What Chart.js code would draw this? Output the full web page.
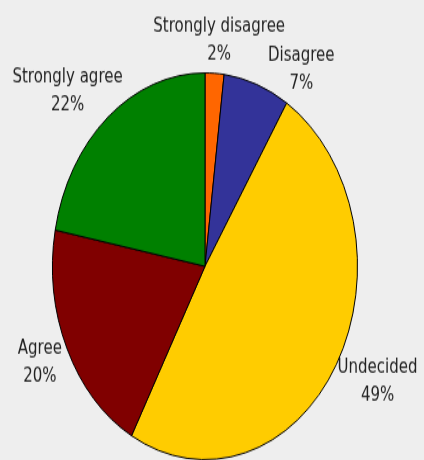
<!DOCTYPE html>
<html>
<head>
<meta charset="utf-8">
<script src="https://cdn.jsdelivr.net/npm/chart.js@4/dist/chart.umd.min.js"></script>
<style>
  html { overflow: hidden; }
  html, body { margin: 0; padding: 0; background: #eeeeee; }
  body { width: 424px; height: 460px; }
  #wrap { width: 424px; height: 363px; transform-origin: 0 0; transform: scaleY(1.268); }
</style>
</head>
<body>
<div id="wrap"><canvas id="chart" width="424" height="363"></canvas></div>
<script>
// answers, clockwise from the top
var labels = ['Strongly disagree', 'Disagree', 'Undecided', 'Agree', 'Strongly agree'];
var values = [2, 7, 49, 20, 22];
var colors = ['#ff6600', '#333399', '#ffcc00', '#800000', '#008000'];

// labels outside the pie, "Name" over "NN%"
// a label that would sit on an earlier one is turned on clockwise a little
var outsideLabels = {
    id: 'outsideLabels',
    afterDatasetsDraw: function (chart) {
        var ctx = chart.ctx;
        var total = values.reduce(function (a, b) { return a + b; }, 0);
        var lineGap = 22, lineH = 14, pad = 4;
        var placed = [];
        ctx.save();
        ctx.font = '15px "DejaVu Sans"';
        ctx.fillStyle = '#222222';
        ctx.textAlign = 'center';
        ctx.textBaseline = 'middle';

        function boxes(lines, cx, cy) {
            return lines.map(function (t, k) {
                var w = ctx.measureText(t).width;
                var y = cy + (k === 0 ? -lineGap / 2 : lineGap / 2);
                return { l: cx - w / 2 - pad, r: cx + w / 2 + pad, t: y - lineH / 2 - pad, b: y + lineH / 2 + pad };
            });
        }
        function hits(bs) {
            return bs.some(function (b) {
                return placed.some(function (p) {
                    return b.l < p.r && b.r > p.l && b.t < p.b && b.b > p.t;
                });
            });
        }

        chart.getDatasetMeta(0).data.forEach(function (arc, i) {
            var lines = [labels[i], Math.round(values[i] / total * 100) + '%'];
            var hw = Math.max(ctx.measureText(lines[0]).width, ctx.measureText(lines[1]).width) / 2;
            var hh = 18;
            var r = arc.outerRadius + 8;
            var a = (arc.startAngle + arc.endAngle) / 2;
            var cx, cy, bs, n = 0;
            do {
                cx = arc.x + Math.cos(a) * (r + hw);
                cy = arc.y + Math.sin(a) * (r + hh);
                bs = boxes(lines, cx, cy);
                a += Math.PI / 180;
                n++;
            } while (hits(bs) && n < 60);
            placed = placed.concat(bs);
            ctx.fillText(lines[0], cx, cy - lineGap / 2);
            ctx.fillText(lines[1], cx, cy + lineGap / 2);
        });
        ctx.restore();
    }
};

var ctx = document.getElementById('chart').getContext('2d');
var myPieChart = new Chart(ctx, {
    type: 'pie',
    data: {
        labels: labels,
        datasets: [{
            data: values,
            backgroundColor: colors,
            borderColor: '#000000',
            borderWidth: 1,
            hoverOffset: 0
        }]
    },
    options: {
        responsive: false,
        animation: false,
        layout: { padding: { left: 52, right: 66, top: 57, bottom: 0 } },
        plugins: {
            legend: { display: false },
            tooltip: { enabled: false }
        }
    },
    plugins: [outsideLabels]
});
</script>
</body>
</html>
